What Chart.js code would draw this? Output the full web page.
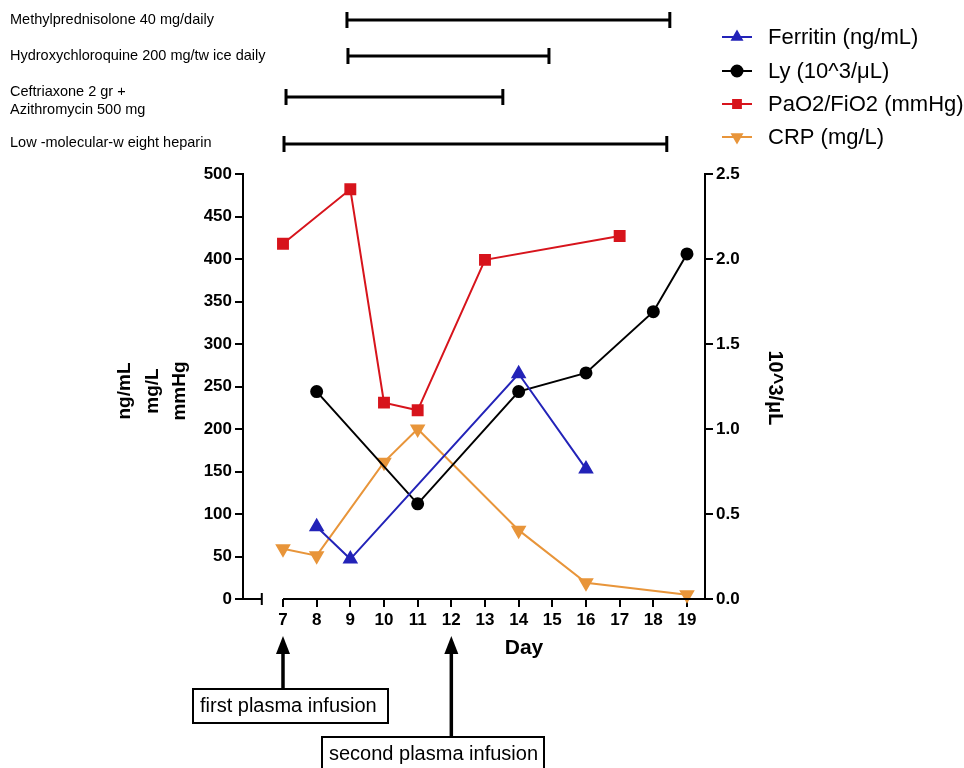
<!DOCTYPE html>
<html>
<head>
<meta charset="utf-8">
<script src="https://cdn.jsdelivr.net/npm/chart.js@4"></script>
<style>
  body { margin: 0; background: #fff; }
  #wrap { width: 964px; height: 768px; position: relative; }
</style>
</head>
<body>
<div id="wrap"><canvas id="chart"></canvas></div>
<script>
// data
const dayTicks = [7, 8, 9, 10, 11, 12, 13, 14, 15, 16, 17, 18, 19];

const ferritinDays = [8, 9, 14, 16];
const ferritin = [85, 47, 265, 153];

const lyDays = [8, 11, 14, 16, 18, 19];
const ly = [1.22, 0.56, 1.22, 1.33, 1.69, 2.03];

const pfDays = [7, 9, 10, 11, 13, 17];
const paFi = [418, 482, 231, 222, 399, 427];

const crpDays = [7, 8, 10, 11, 14, 16, 19];
const crp = [59, 51, 161, 200, 81, 19, 5];

const leftTicks = [0, 50, 100, 150, 200, 250, 300, 350, 400, 450, 500];
const rightTicks = [0, 0.5, 1, 1.5, 2, 2.5];

// treatment periods (day ranges)
const treatments = [
  ['Methylprednisolone 40 mg/daily'],
  ['Hydroxychloroquine 200 mg/tw ice daily'],
  ['Ceftriaxone 2 gr +', 'Azithromycin 500 mg'],
  ['Low -molecular-w eight heparin']
];
const treatStart = [8.9, 8.93, 7.09, 7.03];
const treatEnd = [18.49, 14.9, 13.53, 18.4];

const infusionDays = [7, 12];
const infusionLabels = ['first plasma infusion', 'second plasma infusion'];

const FONT = 'Arial, "Liberation Sans", sans-serif';

function pts(xs, ys) {
  return xs.map((d, i) => ({ x: d, y: ys[i] }));
}

const annotate = {
  id: 'annotate',
  afterDraw(chart) {
    const ctx = chart.ctx;
    const xs = chart.scales.x;
    const area = chart.chartArea;
    const yb = area.bottom;
    ctx.save();
    ctx.strokeStyle = '#000';
    ctx.fillStyle = '#000';
    ctx.lineWidth = 2;

    // x axis with break
    const brk = xs.getPixelForValue(6.37);
    ctx.beginPath();
    ctx.moveTo(area.left, yb); ctx.lineTo(brk, yb);
    ctx.moveTo(brk, yb - 6); ctx.lineTo(brk, yb + 6);
    ctx.moveTo(xs.getPixelForValue(7), yb); ctx.lineTo(area.right, yb);
    ctx.stroke();

    // treatment bars
    const barY = [20, 56, 97, 144];
    const labY = [[20], [56], [92, 110], [143]];
    ctx.font = '14.5px ' + FONT;
    ctx.textBaseline = 'middle';
    ctx.textAlign = 'left';
    ctx.lineWidth = 3;
    treatments.forEach((lines, i) => {
      lines.forEach((t, j) => ctx.fillText(t, 10, labY[i][j]));
      const x0 = xs.getPixelForValue(treatStart[i]);
      const x1 = xs.getPixelForValue(treatEnd[i]);
      ctx.beginPath();
      ctx.moveTo(x0, barY[i]); ctx.lineTo(x1, barY[i]);
      ctx.moveTo(x0, barY[i] - 8); ctx.lineTo(x0, barY[i] + 8);
      ctx.moveTo(x1, barY[i] - 8); ctx.lineTo(x1, barY[i] + 8);
      ctx.stroke();
    });

    // legend
    const legY = [37, 71, 104, 137];
    ctx.font = '22px ' + FONT;
    chart.data.datasets.forEach((ds, i) => {
      const y = legY[i];
      ctx.strokeStyle = ds.borderColor;
      ctx.fillStyle = ds.backgroundColor;
      ctx.lineWidth = 2;
      ctx.beginPath();
      ctx.moveTo(722, y); ctx.lineTo(752, y);
      ctx.stroke();
      Chart.helpers.drawPoint(ctx, {
        pointStyle: ds.pointStyle, radius: 5.5,
        rotation: ds.rotation || 0, borderWidth: 1
      }, 737, y);
      ctx.fillStyle = '#000';
      ctx.fillText(ds.label, 768, y + 1);
    });

    // axis titles
    ctx.fillStyle = '#000';
    ctx.font = 'bold 19px ' + FONT;
    ctx.textAlign = 'center';
    ['ng/mL', 'mg/L', 'mmHg'].forEach((t, i) => {
      ctx.save();
      ctx.translate(125 + i * 27.5, 391);
      ctx.rotate(-Math.PI / 2);
      ctx.fillText(t, 0, 0);
      ctx.restore();
    });
    ctx.save();
    ctx.font = 'bold 20px ' + FONT;
    ctx.translate(775, 388);
    ctx.rotate(Math.PI / 2);
    ctx.fillText('10^3/μL', 0, 0);
    ctx.restore();
    ctx.font = 'bold 21px ' + FONT;
    ctx.fillText('Day', 524, 648);

    // plasma infusion arrows
    const boxes = [[193, 689, 195, 34], [322, 737, 222, 40]];
    ctx.font = '20px ' + FONT;
    ctx.textAlign = 'left';
    infusionDays.forEach((d, i) => {
      const x = xs.getPixelForValue(d);
      const b = boxes[i];
      ctx.strokeStyle = '#000';
      ctx.lineWidth = 3.5;
      ctx.beginPath();
      ctx.moveTo(x, b[1]); ctx.lineTo(x, 650);
      ctx.stroke();
      ctx.beginPath();
      ctx.moveTo(x, 636); ctx.lineTo(x - 7, 654); ctx.lineTo(x + 7, 654);
      ctx.closePath();
      ctx.fill();
      ctx.lineWidth = 2;
      ctx.fillStyle = '#fff';
      ctx.fillRect(b[0], b[1], b[2], b[3]);
      ctx.strokeRect(b[0], b[1], b[2], b[3]);
      ctx.fillStyle = '#000';
      ctx.fillText(infusionLabels[i], b[0] + 7, b[1] + 17);
    });
    ctx.restore();
  }
};

const tickFont = { family: FONT, size: 17, weight: 'bold' };

new Chart(document.getElementById('chart'), {
  type: 'line',
  data: {
    datasets: [
      {
        label: 'Ferritin (ng/mL)', data: pts(ferritinDays, ferritin), yAxisID: 'y',
        borderColor: '#2323b8', backgroundColor: '#2323b8',
        pointStyle: 'triangle', pointRadius: 7, borderWidth: 2
      },
      {
        label: 'Ly (10^3/μL)', data: pts(lyDays, ly), yAxisID: 'y1',
        borderColor: '#000', backgroundColor: '#000',
        pointStyle: 'circle', pointRadius: 5.5, borderWidth: 2
      },
      {
        label: 'PaO2/FiO2 (mmHg)', data: pts(pfDays, paFi), yAxisID: 'y',
        borderColor: '#d7141c', backgroundColor: '#d7141c',
        pointStyle: 'rect', pointRadius: 7, borderWidth: 2
      },
      {
        label: 'CRP (mg/L)', data: pts(crpDays, crp), yAxisID: 'y',
        borderColor: '#e8953a', backgroundColor: '#e8953a',
        pointStyle: 'triangle', rotation: 180, pointRadius: 7, borderWidth: 2
      }
    ]
  },
  options: {
    responsive: true,
    maintainAspectRatio: false,
    animation: false,
    clip: false,
    layout: { padding: { top: 174, left: 0, right: 0, bottom: 0 } },
    elements: { line: { tension: 0 }, point: { borderWidth: 1 } },
    plugins: { legend: { display: false }, tooltip: { enabled: false } },
    scales: {
      x: {
        type: 'linear', min: 5.812, max: 19.535,
        afterBuildTicks: s => { s.ticks = dayTicks.map(v => ({ value: v })); },
        afterFit: s => { s.height = 169; },
        border: { display: false },
        grid: { display: true, drawOnChartArea: false, drawTicks: true, tickLength: 8, color: '#000', lineWidth: 2 },
        ticks: { color: '#000', font: tickFont, padding: 3, maxRotation: 0, autoSkip: false }
      },
      y: {
        position: 'left', min: 0, max: 500,
        afterBuildTicks: s => { s.ticks = leftTicks.map(v => ({ value: v })); },
        afterFit: s => { s.width = 243; },
        border: { display: true, color: '#000', width: 2 },
        grid: { display: true, drawOnChartArea: false, drawTicks: true, tickLength: 8, color: '#000', lineWidth: 2 },
        ticks: { color: '#000', font: tickFont, padding: 3 }
      },
      y1: {
        position: 'right', min: 0, max: 2.5,
        afterBuildTicks: s => { s.ticks = rightTicks.map(v => ({ value: v })); },
        afterFit: s => { s.width = 259; },
        border: { display: true, color: '#000', width: 2 },
        grid: { display: true, drawOnChartArea: false, drawTicks: true, tickLength: 8, color: '#000', lineWidth: 2 },
        ticks: { color: '#000', font: tickFont, padding: 3, callback: v => v.toFixed(1) }
      }
    }
  },
  plugins: [annotate]
});
</script>
</body>
</html>
